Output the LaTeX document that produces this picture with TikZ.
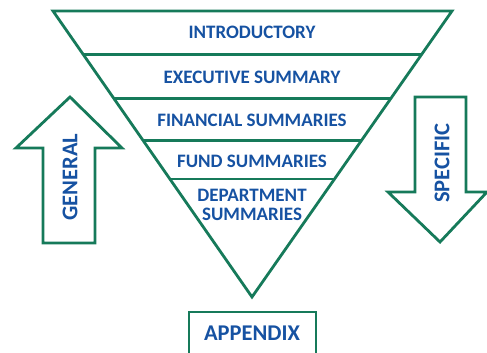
\documentclass[tikz,border=0pt]{standalone}
\usepackage{fontspec}
\setmainfont{Carlito}
\usetikzlibrary{calc}
\definecolor{grn}{RGB}{22,122,90}
\definecolor{blu}{RGB}{22,82,162}
\begin{document}
\begin{tikzpicture}[x=1pt,y=-1pt,
  outl/.style={draw=grn,line width=2.8pt,line join=miter},
  lvl/.style={text=blu,font=\bfseries\fontsize{19}{20}\selectfont,align=center,inner sep=0pt},
  big/.style={text=blu,font=\bfseries\fontsize{22.5}{23}\selectfont,inner sep=0pt}]
\useasboundingbox (0,0) rectangle (487,353);
\clip (0,0) rectangle (487,353);
% funnel
\coordinate (tl) at (53,11);
\coordinate (tr) at (452,11);
\coordinate (ap) at (252,297);
\draw[outl] (tl) -- (tr) -- (ap) -- cycle;
\foreach \yy in {54.5,98.5,140.5,179}{
  \draw[outl,line width=2.5pt] ($(tl)!{(\yy-11)/286}!(ap)$) -- ($(tr)!{(\yy-11)/286}!(ap)$);
}
\node[lvl] (intro) at (252,32) {INTRODUCTORY};
\node[lvl] (exec) at (252,77) {EXECUTIVE SUMMARY};
\node[lvl] (fin) at (252,120) {FINANCIAL SUMMARIES};
\node[lvl] (fund) at (252,161) {FUND SUMMARIES};
\node[lvl] (dept) at (252,205) {DEPARTMENT\\[-1pt]SUMMARIES};
% general arrow
\draw[outl] (70,97) -- (122,148) -- (95,148) -- (95,243) -- (43,243) -- (43,148) -- (16,148) -- cycle;
\node[big,rotate=90] (gen) at (70,177) {GENERAL};
% specific arrow
\draw[outl] (415,97) -- (466,97) -- (466,192) -- (487,192) -- (440,242) -- (388,192) -- (415,192) -- cycle;
\node[big,rotate=90] (spec) at (442,163) {SPECIFIC};
% appendix
\draw[outl] (189,312) rectangle (316,370);
\node[big] (app) at (252,333) {APPENDIX};
\end{tikzpicture}
\end{document}
